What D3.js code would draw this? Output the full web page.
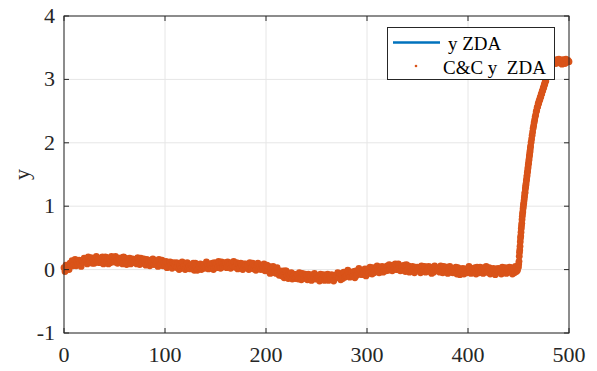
<!DOCTYPE html>
<html>
<head>
<meta charset="utf-8">
<script src="https://cdn.jsdelivr.net/npm/d3@7"></script>
<style>
  html, body { margin: 0; padding: 0; background: #fff; }
  svg { display: block; }
  svg text { font-family: "Liberation Serif", "Tinos", "Times New Roman", "DejaVu Serif", serif; }
</style>
</head>
<body>
<svg id="chart" width="597" height="371"></svg>
<script>
// Output y (ZDA), recorded in stretches with their own sampling step.
// Stretch 1: t = 0 .. 449, step 1 (steady part with noise)
const baseStart = 0, baseStep = 1;
const yBase = [
  0.03,-0.03,0.07,0.01,0.05,0.00,0.10,0.06,0.14,0.06,
  0.09,0.16,0.06,0.13,0.08,0.15,0.11,0.05,0.14,0.12,
  0.18,0.13,0.16,0.09,0.20,0.11,0.12,0.19,0.10,0.15,
  0.10,0.17,0.21,0.12,0.16,0.11,0.18,0.14,0.20,0.09,
  0.16,0.20,0.12,0.19,0.09,0.17,0.11,0.21,0.13,0.15,
  0.12,0.21,0.14,0.10,0.18,0.17,0.11,0.19,0.09,0.20,
  0.19,0.12,0.08,0.17,0.14,0.18,0.09,0.15,0.17,0.11,
  0.12,0.16,0.09,0.19,0.11,0.08,0.18,0.10,0.15,0.17,
  0.14,0.07,0.16,0.09,0.12,0.06,0.15,0.10,0.17,0.08,
  0.14,0.09,0.12,0.05,0.16,0.07,0.08,0.15,0.06,0.11,
  0.06,0.13,0.03,0.10,0.05,0.12,0.08,0.02,0.11,0.09,
  0.07,0.11,0.03,0.10,0.00,0.08,0.02,0.12,0.04,0.06,
  0.00,0.07,0.11,0.02,0.06,0.01,0.08,0.04,0.10,-0.01,
  0.10,0.03,-0.01,0.08,0.05,0.09,0.00,0.06,0.08,0.02,
  0.03,0.12,0.05,0.01,0.09,0.08,0.02,0.10,0.00,0.11,
  0.06,0.10,0.03,0.13,0.05,0.02,0.12,0.04,0.09,0.11,
  0.10,0.03,0.12,0.05,0.08,0.02,0.11,0.06,0.13,0.04,
  0.04,0.11,0.01,0.08,0.03,0.10,0.06,0.00,0.09,0.07,
  0.09,0.04,0.07,0.00,0.11,0.02,0.03,0.10,0.01,0.06,
  -0.01,0.06,0.10,0.01,0.05,0.00,0.07,0.03,0.09,-0.02,
  0.03,0.07,-0.02,0.05,-0.06,0.02,-0.05,0.05,-0.04,-0.02,
  -0.06,0.03,-0.05,-0.09,-0.02,-0.03,-0.10,-0.02,-0.13,-0.02,
  -0.02,-0.10,-0.14,-0.06,-0.09,-0.05,-0.15,-0.09,-0.07,-0.14,
  -0.12,-0.08,-0.15,-0.05,-0.13,-0.16,-0.06,-0.14,-0.09,-0.07,
  -0.09,-0.16,-0.07,-0.14,-0.11,-0.17,-0.08,-0.13,-0.06,-0.15,
  -0.09,-0.14,-0.11,-0.18,-0.07,-0.16,-0.15,-0.08,-0.17,-0.12,
  -0.14,-0.07,-0.17,-0.10,-0.15,-0.08,-0.12,-0.18,-0.09,-0.11,
  -0.09,-0.05,-0.13,-0.06,-0.16,-0.08,-0.14,-0.04,-0.12,-0.10,
  -0.10,-0.01,-0.08,-0.12,-0.04,-0.05,-0.11,-0.03,-0.13,-0.02,
  -0.09,-0.02,0.02,-0.07,-0.03,-0.08,-0.01,-0.05,0.01,-0.10,
  -0.03,0.01,-0.06,0.04,-0.04,-0.07,0.03,-0.05,0.00,0.02,
  0.06,-0.01,-0.05,0.04,0.01,0.05,-0.04,0.02,0.04,-0.02,
  0.06,-0.01,0.08,0.01,0.04,-0.02,0.07,0.02,0.09,0.00,
  0.00,0.09,0.02,-0.02,0.06,0.05,-0.01,0.07,-0.03,0.08,
  -0.01,0.06,-0.04,0.03,-0.02,0.05,0.01,-0.05,0.04,0.02,
  0.04,-0.01,0.02,-0.05,0.06,-0.03,-0.02,0.05,-0.04,0.01,
  0.01,0.05,-0.03,0.04,-0.06,0.02,-0.04,0.06,-0.02,0.00,
  -0.01,0.03,-0.04,0.06,-0.02,-0.05,0.05,-0.03,0.02,0.04,
  -0.06,0.01,0.05,-0.04,0.00,-0.05,0.02,-0.02,0.04,-0.07,
  0.03,-0.04,-0.08,0.01,-0.02,0.02,-0.07,-0.01,0.01,-0.05,
  -0.04,0.05,-0.02,-0.06,0.02,0.01,-0.05,0.03,-0.07,0.04,
  0.02,-0.05,0.04,-0.03,0.00,-0.06,0.03,-0.02,0.05,-0.04,
  -0.04,0.03,-0.07,0.00,-0.05,0.02,-0.02,-0.08,0.01,-0.01,
  0.02,-0.03,0.00,-0.07,0.04,-0.05,-0.04,0.03,-0.06,-0.01,
  0.00,0.04,-0.04,0.03,-0.07,0.01,-0.05,0.05,-0.03,-0.01
];

// Stretch 2: t = 450 .. 461.75, step 0.25 (steep start of the rise)
const riseStart = 450, riseStep = 0.25;
const yRise = [
  0.04,0.09,0.13,0.21,  0.27,0.31,0.37,0.44,  0.50,0.53,0.59,0.65,
  0.69,0.73,0.79,0.84,  0.88,0.91,0.96,0.99,  1.03,1.05,1.09,1.13,
  1.16,1.20,1.22,1.27,  1.30,1.33,1.36,1.40,  1.42,1.46,1.49,1.53,
  1.55,1.59,1.62,1.66,  1.68,1.72,1.75,1.79,  1.81,1.85,1.88,1.92
];

// Stretch 3: t = 462 .. 485.5, step 0.5 (approach to the new level)
const bendStart = 462, bendStep = 0.5;
const yBend = [
  1.95,2.01, 2.06,2.12, 2.17,2.23, 2.27,2.32, 2.36,2.41, 2.44,2.49,
  2.51,2.56, 2.57,2.62, 2.62,2.67, 2.67,2.72, 2.72,2.77, 2.77,2.82,
  2.82,2.87, 2.87,2.92, 2.92,2.97, 2.97,3.02, 3.03,3.08, 3.08,3.12,
  3.13,3.17, 3.17,3.21, 3.21,3.24, 3.23,3.27, 3.25,3.28, 3.26,3.29
];

// Stretch 4: t = 486 .. 500, step 1 (new steady level)
const topStart = 486, topStep = 1;
const yTop = [
  3.28,3.25,3.31,3.27,3.32,3.26,3.30,3.24,3.31,3.28,
  3.25,3.32,3.27,3.30,3.28
];

const xTicks = [0, 100, 200, 300, 400, 500];
const yTicks = [-1, 0, 1, 2, 3, 4];
const seriesNames = ["y ZDA", "C&C y\u00A0\u00A0ZDA"];
const seriesColors = ["#0072BD", "#D95319"];

// assemble [t, y] pairs for each stretch
function stretch(start, step, values) {
  return values.map((v, i) => [start + i * step, v]);
}
const yZDA = [
  ...stretch(baseStart, baseStep, yBase),
  ...stretch(riseStart, riseStep, yRise),
  ...stretch(bendStart, bendStep, yBend),
  ...stretch(topStart, topStep, yTop)
];
// the C&C reconstruction coincides with the measured output
const ccYZDA = yZDA.map(d => [d[0], d[1]]);

const svg = d3.select("#chart");
const m = { left: 64, right: 569, top: 16, bottom: 333 };

const x = d3.scaleLinear().domain([0, 500]).range([m.left, m.right]);
const y = d3.scaleLinear().domain([-1, 4]).range([m.bottom, m.top]);

const axisColor = "#262626";
const fontSize = 22;

// grid
const grid = svg.append("g");
grid.selectAll("line.gx").data(xTicks).join("line")
  .attr("x1", d => x(d)).attr("x2", d => x(d))
  .attr("y1", m.top).attr("y2", m.bottom)
  .attr("stroke", "#e6e6e6").attr("stroke-width", 1);
grid.selectAll("line.gy").data(yTicks).join("line")
  .attr("y1", d => y(d)).attr("y2", d => y(d))
  .attr("x1", m.left).attr("x2", m.right)
  .attr("stroke", "#e6e6e6").attr("stroke-width", 1);

// measured output: solid line
const plot = svg.append("g");
plot.append("path")
  .datum(yZDA)
  .attr("fill", "none")
  .attr("stroke", seriesColors[0])
  .attr("stroke-width", 2.5)
  .attr("stroke-linejoin", "round")
  .attr("d", d3.line().x(d => x(d[0])).y(d => y(d[1])));

// C&C output: point markers
plot.selectAll("circle").data(ccYZDA).join("circle")
  .attr("cx", d => x(d[0]))
  .attr("cy", d => y(d[1]))
  .attr("r", 3.4)
  .attr("fill", seriesColors[1]);

// axes box and inward ticks
const tickLen = 5;
svg.append("rect")
  .attr("x", m.left).attr("y", m.top)
  .attr("width", m.right - m.left).attr("height", m.bottom - m.top)
  .attr("fill", "none").attr("stroke", axisColor).attr("stroke-width", 1);

const ticks = svg.append("g").attr("stroke", axisColor).attr("stroke-width", 1);
xTicks.forEach(d => {
  ticks.append("line").attr("x1", x(d)).attr("x2", x(d)).attr("y1", m.bottom).attr("y2", m.bottom - tickLen);
  ticks.append("line").attr("x1", x(d)).attr("x2", x(d)).attr("y1", m.top).attr("y2", m.top + tickLen);
});
yTicks.forEach(d => {
  ticks.append("line").attr("y1", y(d)).attr("y2", y(d)).attr("x1", m.left).attr("x2", m.left + tickLen);
  ticks.append("line").attr("y1", y(d)).attr("y2", y(d)).attr("x1", m.right).attr("x2", m.right - tickLen);
});

// tick labels
svg.append("g").selectAll("text").data(xTicks).join("text")
  .attr("x", d => x(d)).attr("y", m.bottom + 29)
  .attr("text-anchor", "middle").attr("font-size", fontSize).attr("fill", axisColor)
  .text(d => d);
svg.append("g").selectAll("text").data(yTicks).join("text")
  .attr("x", m.left - 9).attr("y", d => y(d) + 7)
  .attr("text-anchor", "end").attr("font-size", fontSize).attr("fill", axisColor)
  .text(d => d);

// y label
svg.append("text")
  .attr("transform", `translate(29,${(m.top + m.bottom) / 2}) rotate(-90)`)
  .attr("text-anchor", "middle").attr("font-size", 22).attr("fill", axisColor)
  .text("y");

// legend
const lg = svg.append("g");
lg.append("rect")
  .attr("x", 387.5).attr("y", 27.5).attr("width", 167).attr("height", 52)
  .attr("fill", "#fff").attr("stroke", axisColor).attr("stroke-width", 1);
lg.append("line")
  .attr("x1", 393).attr("x2", 440).attr("y1", 42.5).attr("y2", 42.5)
  .attr("stroke", seriesColors[0]).attr("stroke-width", 2.5);
lg.append("circle").attr("cx", 416).attr("cy", 66).attr("r", 1.3).attr("fill", seriesColors[1]);
lg.append("text").attr("x", 448).attr("y", 49.5).attr("font-size", 19).attr("fill", "#000").text(seriesNames[0]);
lg.append("text").attr("x", 443).attr("y", 73.5).attr("font-size", 19).attr("fill", "#000").text(seriesNames[1]);
</script>
</body>
</html>
